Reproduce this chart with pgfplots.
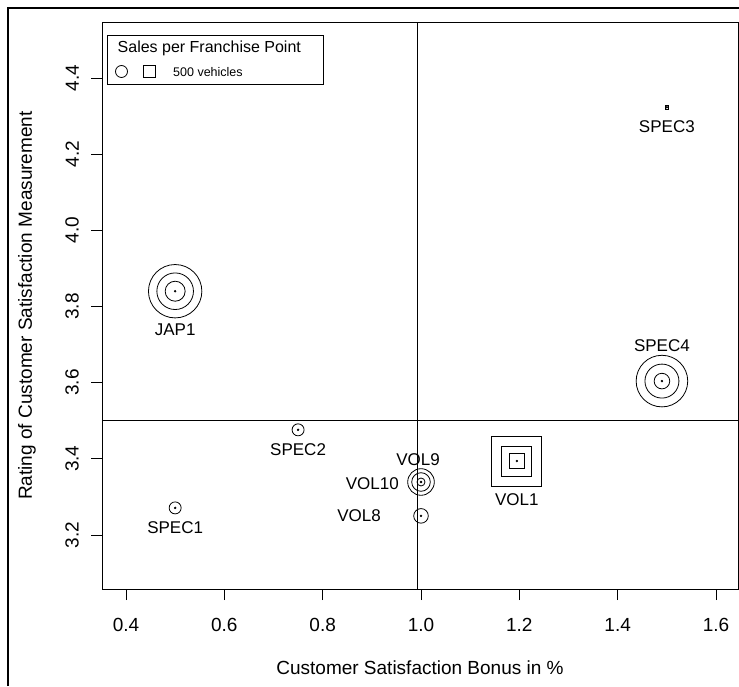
\documentclass[border=0pt]{standalone}
\usepackage{fontspec}
\setmainfont{Liberation Sans}
\usepackage{pgfplots}
\pgfplotsset{compat=1.18}
\newcommand{\fs}[1]{\fontsize{#1}{#1}\selectfont}
\begin{document}
\begin{tikzpicture}[x=1pt,y=1pt]
\useasboundingbox (0,0) rectangle (739,686);
\draw[line width=2pt] (7.7,0) -- (7.7,678.3) -- (739,678.3);
\begin{axis}[
  at={(102pt,97pt)}, anchor=south west,
  scale only axis, width=636pt, height=567pt,
  xmin=0.3512, xmax=1.6447, ymin=3.058, ymax=4.547,
  axis line style={line width=0.8pt},
  xtick={0.4,0.6,0.8,1.0,1.2,1.4,1.6},
  ytick={3.2,3.4,3.6,3.8,4.0,4.2,4.4},
  xtick pos=bottom, ytick pos=left,
  tick align=outside, major tick length=11pt,
  every tick/.style={black, line width=0.8pt},
  /pgf/number format/assume math mode=true,
  /pgf/number format/.cd, fixed, fixed zerofill, precision=1, /pgfplots/.cd,
  tick label style={font=\fs{19}},
  xticklabel style={yshift=-15pt},
  yticklabel style={rotate=90, anchor=south, inner sep=0pt, yshift=12pt},
  xlabel={Customer Satisfaction Bonus in \%},
  ylabel={Rating of Customer Satisfaction Measurement},
  every axis x label/.style={at={(axis description cs:0.5,0)}, anchor=center, yshift=-79pt, font=\fs{19}},
  every axis y label/.style={at={(axis description cs:-0.1179,0.5)}, rotate=90, anchor=center, font=\fs{19}},
  clip=false,
]
% quadrant lines
\addplot[black, line width=0.8pt] coordinates {(0.993,3.058) (0.993,4.547)};
\addplot[black, line width=0.8pt] coordinates {(0.3512,3.5) (1.6447,3.5)};
% circles
\addplot[scatter, only marks, mark=o, line width=0.8pt,
  scatter/use mapped color={draw=black, fill=none},
  visualization depends on={\thisrow{r} \as \prr},
  scatter/@pre marker code/.append style={/tikz/mark size=\prr pt}]
  table {
x y r
0.5 3.84 26.7
0.5 3.84 18.3
0.5 3.84 10
1.49 3.604 25.8
1.49 3.604 17
1.49 3.604 7.8
0.75 3.476 6
0.5 3.271 6
1.0 3.339 13.3
1.0 3.339 9.3
1.0 3.339 4
1.0 3.25 7.3
};
% squares
\addplot[scatter, only marks, mark=square, line width=0.8pt,
  scatter/use mapped color={draw=black, fill=none},
  visualization depends on={\thisrow{r} \as \prr},
  scatter/@pre marker code/.append style={/tikz/mark size=\prr pt}]
  table {
x y r
1.195 3.394 25
1.195 3.394 15
1.195 3.394 7.5
1.5 4.323 1.8
};
% centre dots
\addplot[only marks, mark=*, mark size=1pt, black] coordinates {
(0.5,3.84) (1.49,3.604) (0.75,3.476) (0.5,3.271) (1.0,3.339) (1.0,3.25) (1.195,3.394) (1.5,4.323)};
% labels
\node[font=\fs{17}] at (axis cs:0.5,3.84) [yshift=-39pt] {JAP1};
\node[font=\fs{17}] at (axis cs:1.49,3.604) [yshift=35pt] {SPEC4};
\node[font=\fs{17}] at (axis cs:1.5,4.323) [yshift=-19pt] {SPEC3};
\node[font=\fs{17}] at (axis cs:0.75,3.476) [yshift=-20pt] {SPEC2};
\node[font=\fs{17}] at (axis cs:0.5,3.271) [yshift=-20pt] {SPEC1};
\node[font=\fs{17}] at (axis cs:1.195,3.394) [yshift=-39pt] {VOL1};
\node[font=\fs{17}] at (axis cs:1.0,3.339) [yshift=22pt, xshift=-3pt] {VOL9};
\node[font=\fs{17}, anchor=east, inner sep=0pt] at (axis cs:1.0,3.339) [xshift=-22pt, yshift=-2pt] {VOL10};
\node[font=\fs{17}, anchor=east, inner sep=0pt] at (axis cs:1.0,3.25) [xshift=-40pt] {VOL8};
\end{axis}
% legend
\draw[line width=0.9pt] (107,602) rectangle (323,651);
\node[anchor=west, inner sep=0pt, font=\fs{16}] at (117.5,638) {Sales per Franchise Point};
\draw[line width=0.8pt] (121.5,614.5) circle (6);
\draw[line width=0.8pt] (143,608.5) rectangle (155,620.5);
\node[anchor=west, inner sep=0pt, font=\fs{12.5}] at (173,614) {500 vehicles};
\end{tikzpicture}
\end{document}
